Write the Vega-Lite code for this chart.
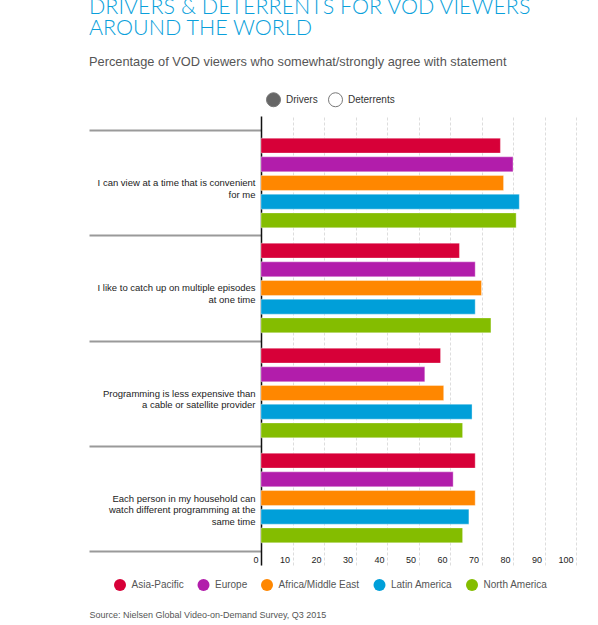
{
  "$schema": "https://vega.github.io/schema/vega-lite/v6.json",
  "description": "Drivers for VOD viewers by region, grouped horizontal bars",
  "autosize": {"type": "none"},
  "padding": {"left": 261, "top": 116, "right": 22, "bottom": 60},
  "width": 315,
  "height": 449,
  "background": "white",
  "title": {
    "text": ["DRIVERS & DETERRENTS FOR VOD VIEWERS", "AROUND THE WORLD"],
    "subtitle": "Percentage of VOD viewers who somewhat/strongly agree with statement",
    "anchor": "start",
    "frame": "bounds",
    "dx": 1,
    "font": "Lato",
    "fontSize": 21.5,
    "fontWeight": 300,
    "lineHeight": 21,
    "color": "#0a9fdb",
    "subtitleFont": "Liberation Sans",
    "subtitleFontSize": 12.8,
    "subtitleColor": "#555555",
    "subtitlePadding": 17,
    "offset": 23
  },
  "data": {
    "values": [
      {"statement": "I can view at a time that is convenient|for me", "region": "Asia-Pacific", "pct": 76, "view": "Drivers"},
      {"statement": "I can view at a time that is convenient|for me", "region": "Europe", "pct": 80, "view": "Drivers"},
      {"statement": "I can view at a time that is convenient|for me", "region": "Africa/Middle East", "pct": 77, "view": "Drivers"},
      {"statement": "I can view at a time that is convenient|for me", "region": "Latin America", "pct": 82, "view": "Drivers"},
      {"statement": "I can view at a time that is convenient|for me", "region": "North America", "pct": 81, "view": "Drivers"},
      {"statement": "I like to catch up on multiple episodes|at one time", "region": "Asia-Pacific", "pct": 63, "view": "Drivers"},
      {"statement": "I like to catch up on multiple episodes|at one time", "region": "Europe", "pct": 68, "view": "Drivers"},
      {"statement": "I like to catch up on multiple episodes|at one time", "region": "Africa/Middle East", "pct": 70, "view": "Drivers"},
      {"statement": "I like to catch up on multiple episodes|at one time", "region": "Latin America", "pct": 68, "view": "Drivers"},
      {"statement": "I like to catch up on multiple episodes|at one time", "region": "North America", "pct": 73, "view": "Drivers"},
      {"statement": "Programming is less expensive than|a cable or satellite provider", "region": "Asia-Pacific", "pct": 57, "view": "Drivers"},
      {"statement": "Programming is less expensive than|a cable or satellite provider", "region": "Europe", "pct": 52, "view": "Drivers"},
      {"statement": "Programming is less expensive than|a cable or satellite provider", "region": "Africa/Middle East", "pct": 58, "view": "Drivers"},
      {"statement": "Programming is less expensive than|a cable or satellite provider", "region": "Latin America", "pct": 67, "view": "Drivers"},
      {"statement": "Programming is less expensive than|a cable or satellite provider", "region": "North America", "pct": 64, "view": "Drivers"},
      {"statement": "Each person in my household can|watch different programming at the|same time", "region": "Asia-Pacific", "pct": 68, "view": "Drivers"},
      {"statement": "Each person in my household can|watch different programming at the|same time", "region": "Europe", "pct": 61, "view": "Drivers"},
      {"statement": "Each person in my household can|watch different programming at the|same time", "region": "Africa/Middle East", "pct": 68, "view": "Drivers"},
      {"statement": "Each person in my household can|watch different programming at the|same time", "region": "Latin America", "pct": 66, "view": "Drivers"},
      {"statement": "Each person in my household can|watch different programming at the|same time", "region": "North America", "pct": 64, "view": "Drivers"}
    ]
  },
  "mark": {"type": "bar", "stroke": "white", "strokeOpacity": 0.35, "strokeWidth": 1},
  "encoding": {
    "y": {
      "field": "statement",
      "type": "nominal",
      "sort": null,
      "scale": {"paddingInner": 0, "paddingOuter": 0.138},
      "axis": {
        "title": null,
        "tickBand": "extent",
        "tickSize": 172,
        "tickWidth": 2,
        "tickColor": "#9a9a9a",
        "domainColor": "#111111",
        "domainWidth": 1.5,
        "labelPadding": -166,
        "labelExpr": "split(datum.label, '|')",
        "labelFont": "Liberation Sans",
        "labelFontSize": 9.5,
        "labelLineHeight": 11.5,
        "labelColor": "#222222",
        "labelLimit": 200,
        "grid": false
      }
    },
    "yOffset": {
      "field": "region",
      "type": "nominal",
      "sort": ["Asia-Pacific", "Europe", "Africa/Middle East", "Latin America", "North America"],
      "scale": {"paddingInner": 0.2, "paddingOuter": 0.41}
    },
    "x": {
      "field": "pct",
      "type": "quantitative",
      "scale": {"domain": [0, 100], "nice": false},
      "axis": {
        "title": "Source: Nielsen Global Video-on-Demand Survey, Q3 2015",
        "titleFont": "Liberation Sans",
        "titleFontSize": 9,
        "titleFontWeight": "normal",
        "titleColor": "#555555",
        "titleAnchor": "start",
        "titleAlign": "left",
        "titleBaseline": "alphabetic",
        "titleX": -172,
        "titleY": 52,
        "values": [0, 10, 20, 30, 40, 50, 60, 70, 80, 90, 100],
        "domain": false,
        "ticks": false,
        "tickSize": 0,
        "labelPadding": -10,
        "labelAlign": "right",
        "labelOffset": -3,
        "labelFont": "Liberation Sans",
        "labelFontSize": 9,
        "labelColor": "#222222",
        "grid": true,
        "gridColor": "#dddddd",
        "gridDash": [3, 2],
        "gridWidth": 1
      }
    },
    "color": {
      "field": "region",
      "type": "nominal",
      "scale": {
        "domain": ["Asia-Pacific", "Europe", "Africa/Middle East", "Latin America", "North America"],
        "range": ["#d70038", "#b21dab", "#ff8700", "#009fd9", "#84bd00"]
      },
      "legend": {
        "orient": "none",
        "legendX": -147,
        "legendY": 463,
        "direction": "horizontal",
        "title": null,
        "symbolType": "circle",
        "symbolSize": 144,
        "symbolStrokeWidth": 0,
        "labelFont": "Liberation Sans",
        "labelFontSize": 10,
        "labelColor": "#555555",
        "labelOffset": 5.5,
        "columnPadding": 13.5
      }
    },
    "opacity": {
      "field": "view",
      "type": "nominal",
      "scale": {"domain": ["Drivers", "Deterrents"], "range": [1, 1]},
      "legend": {
        "orient": "none",
        "legendX": 5,
        "legendY": -24,
        "direction": "horizontal",
        "title": null,
        "symbolType": "circle",
        "symbolSize": 196,
        "symbolFillColor": {"expr": "datum.value === 'Drivers' ? '#666666' : '#ffffff'"},
        "symbolStrokeColor": "#777777",
        "symbolStrokeWidth": 1,
        "symbolOpacity": 1,
        "labelFont": "Liberation Sans",
        "labelFontSize": 10,
        "labelColor": "#333333",
        "labelOffset": 5,
        "columnPadding": 8
      }
    }
  },
  "config": {
    "view": {"stroke": null}
  }
}
